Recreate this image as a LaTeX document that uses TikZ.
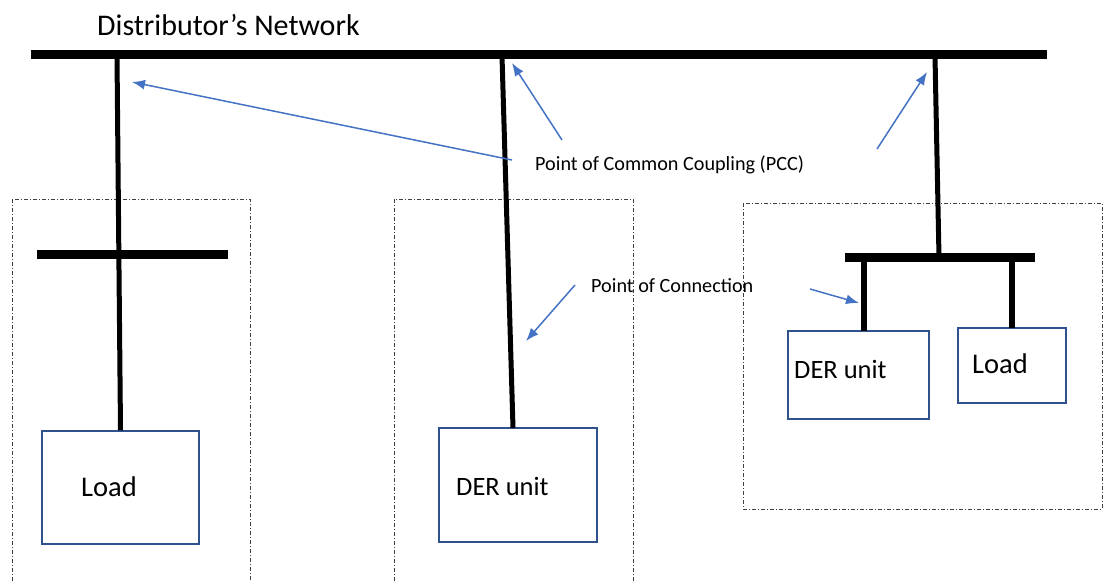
\documentclass[tikz,border=0pt]{standalone}
\usepackage{fontspec}
\setmainfont{Carlito}
\usetikzlibrary{arrows.meta}
\definecolor{boxblue}{HTML}{2F528F}
\definecolor{arrowblue}{HTML}{4472C4}
\tikzset{
  bus/.style={line width=9pt},
  feeder/.style={line width=5pt},
  stub/.style={line width=6pt},
  unitbox/.style={draw=boxblue, line width=1.4pt, fill=white, inner sep=0pt},
  zone/.style={draw=black!75, line width=0.6pt, dash pattern=on 4pt off 2pt on 1pt off 2pt},
  pointer/.style={draw=arrowblue, line width=1.5pt, -{Latex[length=13pt,width=10pt]}},
  lbl/.style={anchor=west, inner sep=0pt},
}
\begin{document}
\begin{tikzpicture}[x=1pt, y=-1pt]
            \useasboundingbox (0,0) rectangle (1104,581);

            % зоны
            \draw [zone] ( 12, 199 ) rectangle ( 250, 590 );
            \draw [zone] ( 394, 199 ) rectangle ( 633, 590 );
            \draw [zone] ( 743, 203 ) rectangle ( 1102, 509 );

            % шина сети
            \coordinate (netL) at ( 31, 54.5 );
            \coordinate (netR) at ( 1047, 54.5 );
            \draw [bus] (netL) -- (netR);
            \node [lbl, font=\fontsize{30}{36}\selectfont] (title) at ( 97, 25 ) {Distributor’s Network};

            % блоки
            \node [unitbox, minimum width=157pt, minimum height=113pt] (load1) at ( 120.5, 487.5 ) {};
            \node [unitbox, minimum width=158pt, minimum height=114pt] (der1) at ( 518, 485 ) {};
            \node [unitbox, minimum width=141pt, minimum height=88pt] (der2) at ( 858.5, 375 ) {};
            \node [unitbox, minimum width=108pt, minimum height=75pt] (load2) at ( 1012, 365.5 ) {};

            \node [lbl, font=\fontsize{28.5}{32}\selectfont] (load1txt) at ( 81, 487 ) {Load};
            \node [lbl, font=\fontsize{26.5}{30}\selectfont] (der1txt) at ( 456, 486 ) {DER unit};
            \node [lbl, font=\fontsize{26.5}{30}\selectfont] (der2txt) at ( 794, 369 ) {DER unit};
            \node [lbl, font=\fontsize{28.5}{32}\selectfont] (load2txt) at ( 972, 364 ) {Load};

            % отводы
            \coordinate (pcc1) at ( 117, 56 );
            \coordinate (pcc2) at ( 502, 56 );
            \coordinate (pcc3) at ( 935, 56 );
            \coordinate (poc1) at ( 513, 428 );
            \draw [feeder] (pcc1) -- (load1.north);
            \draw [feeder] (pcc2) -- (poc1);

            % левая шина
            \coordinate (barL) at ( 37, 254 );
            \coordinate (barR) at ( 228, 254 );
            \draw [bus] (barL) -- (barR);

            % правая шина
            \coordinate (bus3L) at ( 845, 257 );
            \coordinate (bus3R) at ( 1035, 257 );
            \coordinate (bus3c) at ( 939, 257 );
            \draw [feeder] (pcc3) -- (bus3c);
            \draw [bus] (bus3L) -- (bus3R);
            \coordinate (poc2) at ( 864, 331 );
            \coordinate (poc3) at ( 1012, 328 );
            \draw [stub] ( 864, 257 ) -- (poc2);
            \draw [stub] ( 1012, 257 ) -- (poc3);

            % подписи
            \node [lbl, font=\fontsize{20.2}{24}\selectfont] (pcc) at ( 535, 165 ) {Point of Common Coupling (PCC)};
            \node [lbl, font=\fontsize{20.2}{24}\selectfont] (poc) at ( 591, 286 ) {Point of Connection};

            % стрелки
            \coordinate (a1) at ( 512, 160 );
            \coordinate (a2) at ( 562, 140 );
            \coordinate (a3) at ( 877, 149 );
            \coordinate (b1) at ( 575, 285 );
            \coordinate (b2) at ( 810, 289 );
            \draw [pointer] (a1) -- ( 132, 82 );
            \draw [pointer] (a2) -- ( 512, 63 );
            \draw [pointer] (a3) -- ( 927, 72 );
            \draw [pointer] (b1) -- ( 526, 341 );
            \draw [pointer] (b2) -- ( 859, 303 );
        \end{tikzpicture}
\end{document}
